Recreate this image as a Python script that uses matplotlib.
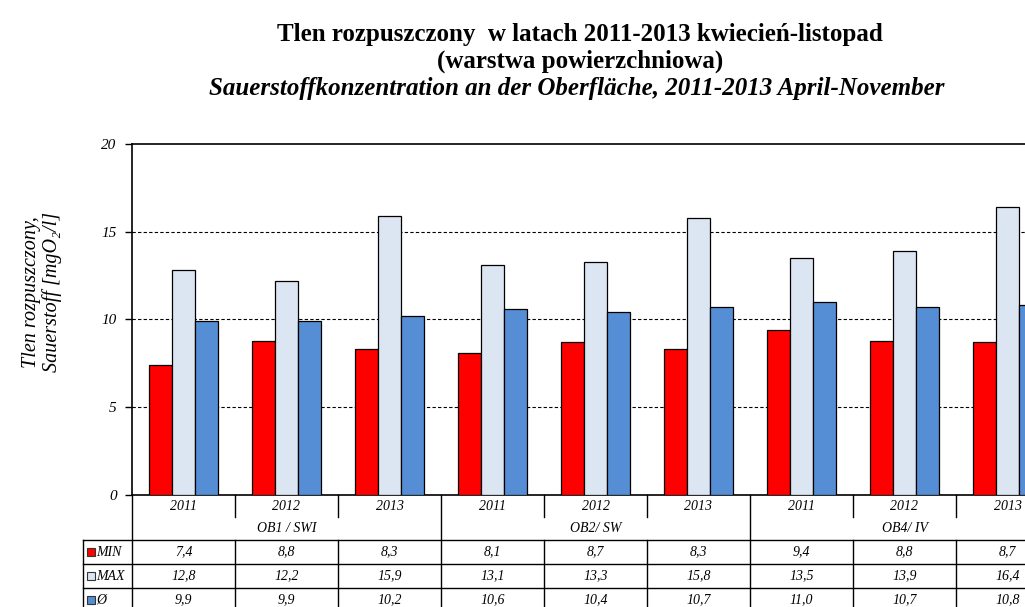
import matplotlib.pyplot as plt
from matplotlib.patches import Rectangle

plt.rcParams['font.family'] = ['Liberation Serif', 'DejaVu Serif']

years = ["2011", "2012", "2013"] * 3
groups = ["OB1 / SWI", "OB2/ SW", "OB4/ IV"]
val_min = [7.4, 8.8, 8.3, 8.1, 8.7, 8.3, 9.4, 8.8, 8.7]
val_max = [12.8, 12.2, 15.9, 13.1, 13.3, 15.8, 13.5, 13.9, 16.4]
val_avg = [9.9, 9.9, 10.2, 10.6, 10.4, 10.7, 11.0, 10.7, 10.8]
series_names = ["MIN", "MAX", "Ø"]
colors = ["#FF0000", "#DCE6F2", "#558ED5"]

W, H = 1025, 607
fig = plt.figure(figsize=(W / 100, H / 100), dpi=100)
# plot area runs past the right edge, like in the original screenshot
ax = fig.add_axes([132 / W, (H - 495) / H, 103 * 9 / W, 351 / H])

n = len(years)
x = list(range(n))
bw = 0.223
for k, vals in enumerate([val_min, val_max, val_avg]):
    ax.bar([i + (k - 1) * bw for i in x], vals, width=bw, color=colors[k],
           edgecolor="black", linewidth=0.9, zorder=3)

ax.set_xlim(-0.5, n - 0.5)
ax.set_ylim(0, 20)
ax.set_yticks([0, 5, 10, 15, 20])
ax.set_yticklabels(["0", "5", "10", "15", "20"], fontsize=11, style="italic")
ax.tick_params(axis="y", length=5, width=1, direction="out", pad=6)
ax.set_xticks([])
for y in [5, 10, 15]:
    ax.axhline(y, color="black", linestyle=(0, (3, 2)), linewidth=0.8, zorder=1)
for s in ax.spines.values():
    s.set_linewidth(1.2)

fig.text(42 / W, 1 - 292 / H, "Tlen rozpuszczony,\nSauerstoff [mgO\u2082/l]",
         rotation=90, ha="center", va="center", fontsize=14.5,
         style="italic", linespacing=1.05)

# table under the chart
tr = ax.get_xaxis_transform()
ph = 351.0
def fy(px):
    return -px / ph

rows = [0, 23, 45, 69, 93, 116]
left_col = -0.5 - 49 / 103
kw = dict(transform=tr, clip_on=False, color="black", linewidth=1)

for i in range(n):
    ax.text(i, fy(11), years[i], transform=tr, ha="center", va="center",
            fontsize=10, style="italic")
for g, name in enumerate(groups):
    ax.text(g * 3 + 1, fy(34), name, transform=tr, ha="center", va="center",
            fontsize=10, style="italic")

for k, vals in enumerate([val_min, val_max, val_avg]):
    yc = fy((rows[k + 2] + rows[k + 3]) / 2)
    for i in range(n):
        ax.text(i, yc, f"{vals[i]:.1f}".replace(".", ","), transform=tr,
                ha="center", va="center", fontsize=10, style="italic")
    ax.text(left_col + 13 / 103, yc, series_names[k], transform=tr,
            ha="left", va="center", fontsize=10, style="italic")
    ax.add_patch(Rectangle((left_col + 4 / 103, yc - 4 / ph), 8 / 103, 8 / ph,
                           transform=tr, clip_on=False, facecolor=colors[k],
                           edgecolor="#333333", linewidth=0.8))

for r in rows[2:]:
    ax.plot([left_col, n - 0.5], [fy(r), fy(r)], **kw)
ax.plot([-0.5, -0.5], [0, fy(rows[-1])], **kw)
ax.plot([left_col, left_col], [fy(rows[2]), fy(rows[-1])], **kw)
for b in range(1, n):
    xb = b - 0.5
    if b % 3 == 0:
        ax.plot([xb, xb], [0, fy(rows[-1])], **kw)
    else:
        ax.plot([xb, xb], [0, fy(22)], **kw)
        ax.plot([xb, xb], [fy(rows[2]), fy(rows[-1])], **kw)

fig.text(580 / W, 1 - 35 / H, "Tlen rozpuszczony  w latach 2011-2013 kwiecień-listopad",
         ha="center", va="center", fontsize=18, weight="bold")
fig.text(580 / W, 1 - 61 / H, "(warstwa powierzchniowa)",
         ha="center", va="center", fontsize=18, weight="bold")
fig.text(577 / W, 1 - 88 / H, "Sauerstoffkonzentration an der Oberfläche, 2011-2013 April-November",
         ha="center", va="center", fontsize=18, weight="bold", style="italic")

fig.savefig("out.png", dpi=100)
